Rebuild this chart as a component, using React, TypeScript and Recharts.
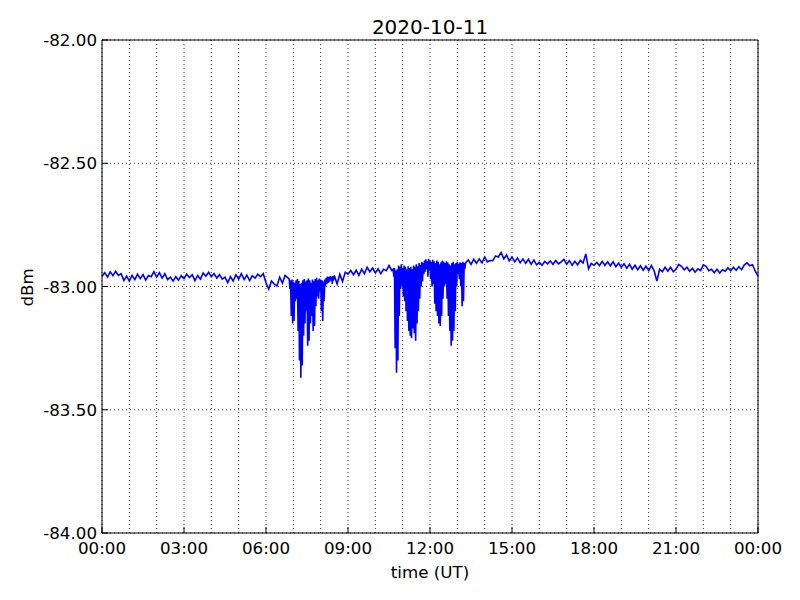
import React from 'react';
import { LineChart, Line, XAxis, YAxis, CartesianGrid, ReferenceArea } from 'recharts';

// [hour, dBm] before the first fade
const night: [number, number][] = [
  [0.0, -82.958], [0.1, -82.944], [0.2, -82.962], [0.3, -82.94], [0.4, -82.956], [0.5, -82.938],
  [0.6, -82.955], [0.7, -82.948], [0.8, -82.976], [0.9, -82.958], [1.0, -82.978], [1.1, -82.955],
  [1.2, -82.972], [1.3, -82.95], [1.4, -82.968], [1.5, -82.952], [1.6, -82.974], [1.7, -82.955],
  [1.8, -82.96], [1.9, -82.94], [2.0, -82.962], [2.1, -82.944], [2.2, -82.966], [2.3, -82.948],
  [2.4, -82.972], [2.5, -82.962], [2.6, -82.978], [2.7, -82.96], [2.8, -82.974], [2.9, -82.956],
  [3.0, -82.968], [3.1, -82.95], [3.2, -82.964], [3.3, -82.952], [3.4, -82.976], [3.5, -82.955],
  [3.6, -82.97], [3.7, -82.945], [3.8, -82.958], [3.9, -82.942], [4.0, -82.96], [4.1, -82.948],
  [4.2, -82.966], [4.3, -82.952], [4.4, -82.97], [4.5, -82.962], [4.6, -82.984], [4.7, -82.96],
  [4.8, -82.978], [4.9, -82.952], [5.0, -82.97], [5.1, -82.948], [5.2, -82.972], [5.3, -82.954],
  [5.4, -82.976], [5.5, -82.956], [5.6, -82.966], [5.7, -82.95], [5.8, -82.96], [5.9, -82.948],
  [6.0, -82.985], [6.1, -83.01], [6.2, -82.978], [6.3, -82.99], [6.4, -82.998], [6.5, -82.962],
  [6.6, -82.986], [6.7, -82.955], [6.8, -82.965],
];

// [hour, upper, lower] while the signal flickers (morning fade)
const dip1: [number, number, number][] = [
  [6.85, -82.97, -83.01], [6.9, -82.975, -83.12], [6.95, -82.972, -83.15], [7.0, -82.98, -83.14],
  [7.05, -82.985, -83.06], [7.1, -82.975, -83.05], [7.15, -82.97, -83.18], [7.2, -82.978, -83.3],
  [7.25, -82.99, -83.37], [7.3, -82.985, -83.32], [7.35, -82.975, -83.2], [7.4, -82.97, -83.15],
  [7.45, -82.98, -83.1], [7.5, -82.975, -83.24], [7.55, -82.968, -83.22], [7.6, -82.975, -83.15],
  [7.65, -82.985, -83.12], [7.7, -82.972, -83.18], [7.75, -82.978, -83.16], [7.8, -82.97, -83.08],
  [7.85, -82.965, -83.04], [7.9, -82.975, -83.05], [7.95, -82.968, -83.02], [8.0, -82.972, -83.1],
  [8.05, -82.975, -83.14], [8.1, -82.98, -83.06], [8.15, -82.972, -83.0], [8.2, -82.965, -82.99],
  [8.25, -82.96, -82.985], [8.3, -82.962, -82.98], [8.35, -82.958, -82.975], [8.4, -82.96, -82.99],
  [8.45, -82.958, -82.975],
];

const mid: [number, number][] = [
  [8.5, -82.955], [8.6, -82.99], [8.7, -82.95], [8.8, -82.98], [8.9, -82.942], [9.0, -82.95],
  [9.1, -82.935], [9.2, -82.952], [9.3, -82.934], [9.4, -82.955], [9.5, -82.93], [9.6, -82.948],
  [9.7, -82.922], [9.8, -82.94], [9.9, -82.925], [10.0, -82.945], [10.1, -82.928], [10.2, -82.948],
  [10.3, -82.93], [10.4, -82.936], [10.5, -82.915], [10.6, -82.935],
];

// [hour, upper, lower] midday fades
const dip2: [number, number, number][] = [
  [10.65, -82.93, -82.96], [10.7, -82.925, -83.25], [10.75, -82.935, -83.35], [10.8, -82.93, -83.3],
  [10.85, -82.915, -83.12], [10.9, -82.92, -83.01], [10.95, -82.91, -83.0], [11.0, -82.925, -83.04],
  [11.05, -82.915, -83.06], [11.1, -82.92, -83.1], [11.15, -82.93, -83.14], [11.2, -82.918, -83.18],
  [11.25, -82.925, -83.2], [11.3, -82.92, -83.21], [11.35, -82.93, -83.17], [11.4, -82.915, -83.19],
  [11.45, -82.92, -83.22], [11.5, -82.91, -83.15], [11.55, -82.918, -83.1], [11.6, -82.905, -83.05],
  [11.65, -82.912, -83.0], [11.7, -82.9, -82.98], [11.75, -82.905, -82.95], [11.8, -82.895, -82.94],
  [11.85, -82.89, -82.93], [11.9, -82.898, -82.96], [11.95, -82.888, -82.935], [12.0, -82.895, -82.97],
  [12.05, -82.9, -83.0], [12.1, -82.892, -82.99], [12.15, -82.898, -83.07], [12.2, -82.905, -83.1],
  [12.25, -82.895, -83.12], [12.3, -82.9, -83.15], [12.35, -82.91, -83.16], [12.4, -82.902, -83.12],
  [12.45, -82.895, -83.05], [12.5, -82.9, -83.0], [12.55, -82.905, -82.99], [12.6, -82.898, -83.05],
  [12.65, -82.902, -83.12], [12.7, -82.91, -83.18], [12.75, -82.915, -83.24], [12.8, -82.905, -83.22],
  [12.85, -82.9, -83.18], [12.9, -82.91, -83.1], [12.95, -82.905, -83.0], [13.0, -82.9, -82.95],
  [13.05, -82.908, -82.97], [13.1, -82.902, -83.0], [13.15, -82.905, -83.08], [13.2, -82.9, -83.06],
  [13.25, -82.905, -82.93],
];

const afternoon: [number, number][] = [
  [13.3, -82.905], [13.4, -82.892], [13.5, -82.91], [13.6, -82.89], [13.7, -82.906], [13.8, -82.888],
  [13.9, -82.904], [14.0, -82.88], [14.1, -82.9], [14.2, -82.895], [14.3, -82.894], [14.4, -82.876],
  [14.5, -82.88], [14.6, -82.862], [14.7, -82.888], [14.8, -82.872], [14.9, -82.896], [15.0, -82.88],
  [15.1, -82.9], [15.2, -82.884], [15.3, -82.904], [15.4, -82.888], [15.5, -82.906], [15.6, -82.89],
  [15.7, -82.91], [15.8, -82.893], [15.9, -82.912], [16.0, -82.902], [16.1, -82.914], [16.2, -82.898],
  [16.3, -82.908], [16.4, -82.896], [16.5, -82.91], [16.6, -82.895], [16.7, -82.908], [16.8, -82.9],
  [16.9, -82.89], [17.0, -82.91], [17.1, -82.895], [17.2, -82.914], [17.3, -82.898], [17.4, -82.912],
  [17.5, -82.894], [17.6, -82.905], [17.7, -82.868], [17.8, -82.928], [17.9, -82.906], [18.0, -82.914],
  [18.1, -82.902], [18.2, -82.915], [18.3, -82.898], [18.4, -82.914], [18.5, -82.9], [18.6, -82.916],
  [18.7, -82.9], [18.8, -82.92], [18.9, -82.905], [19.0, -82.922], [19.1, -82.908], [19.2, -82.926],
  [19.3, -82.91], [19.4, -82.93], [19.5, -82.914], [19.6, -82.932], [19.7, -82.916], [19.8, -82.934],
  [19.9, -82.918], [20.0, -82.935], [20.1, -82.915], [20.2, -82.936], [20.3, -82.978], [20.4, -82.93],
  [20.5, -82.94], [20.6, -82.922], [20.7, -82.938], [20.8, -82.922], [20.9, -82.94], [21.0, -82.93],
  [21.1, -82.91], [21.2, -82.918], [21.3, -82.932], [21.4, -82.922], [21.5, -82.938], [21.6, -82.926],
  [21.7, -82.942], [21.8, -82.928], [21.9, -82.935], [22.0, -82.912], [22.1, -82.918], [22.2, -82.936],
  [22.3, -82.93], [22.4, -82.944], [22.5, -82.93], [22.6, -82.945], [22.7, -82.932], [22.8, -82.938],
  [22.9, -82.924], [23.0, -82.936], [23.1, -82.922], [23.2, -82.934], [23.3, -82.92], [23.4, -82.932],
  [23.5, -82.912], [23.6, -82.904], [23.7, -82.916], [23.8, -82.912], [23.9, -82.938], [24.0, -82.958],
];

const hourTicks = [0, 1, 2, 3, 4, 5, 6, 7, 8, 9, 10, 11, 12, 13, 14, 15, 16, 17, 18, 19, 20, 21, 22, 23, 24];
const yTicks = [-84, -83.5, -83, -82.5, -82];

const FONT = 'DejaVu Sans, sans-serif';

const plain = (rows: [number, number][]) => rows.map(([t, v]) => ({ t, v }));
const flicker = (rows: [number, number, number][]) =>
  rows.flatMap(([t, top, low]) => [{ t, v: top }, { t: t + 0.025, v: low }]);

const data = [
  ...plain(night),
  ...flicker(dip1),
  ...plain(mid),
  ...flicker(dip2),
  ...plain(afternoon),
];

const hhmm = (h: number) => `${String(h % 24).padStart(2, '0')}:00`;

const BottomTick = (props: any) => {
  const { x, y, payload } = props;
  if (payload.value % 3 !== 0) return <g />;
  return (
    <g>
      <line x1={x} x2={x} y1={y} y2={y - 6} stroke="#000" />
      <text x={x} y={y + 21} textAnchor="middle" fontSize={16.7} fontFamily={FONT} fill="#000">
        {hhmm(payload.value)}
      </text>
    </g>
  );
};

const TopTick = (props: any) => {
  const { x, y, payload } = props;
  if (payload.value % 3 !== 0) return <g />;
  return <line x1={x} x2={x} y1={y} y2={y + 6} stroke="#000" />;
};

const LeftTick = (props: any) => {
  const { x, y, payload } = props;
  return (
    <g>
      <line x1={x} x2={x + 6} y1={y} y2={y} stroke="#000" />
      <text x={x - 5} y={y} dy="0.36em" textAnchor="end" fontSize={16.7} fontFamily={FONT} fill="#000">
        {payload.value.toFixed(2)}
      </text>
    </g>
  );
};

const RightTick = (props: any) => {
  const { x, y } = props;
  return <line x1={x} x2={x - 6} y1={y} y2={y} stroke="#000" />;
};

export default function App() {
  return (
    <div style={{ position: 'absolute', left: 0, top: 0, width: 800, height: 600, background: '#fff' }}>
      <LineChart width={800} height={600} data={data} margin={{ top: 40, right: 42, left: 2, bottom: 37 }}>
        <CartesianGrid stroke="#000" strokeDasharray="1 3" strokeWidth={0.8} />
        <XAxis
          dataKey="t"
          type="number"
          domain={[0, 24]}
          ticks={hourTicks}
          interval={0}
          height={30}
          tickSize={0}
          tickMargin={0}
          tickLine={false}
          axisLine={false}
          tick={<BottomTick />}
        />
        <XAxis
          xAxisId="top"
          orientation="top"
          type="number"
          domain={[0, 24]}
          ticks={hourTicks}
          interval={0}
          height={0}
          tickSize={0}
          tickMargin={0}
          tickLine={false}
          axisLine={false}
          tick={<TopTick />}
        />
        <YAxis
          type="number"
          domain={[-84, -82]}
          ticks={yTicks}
          interval={0}
          width={100}
          tickSize={0}
          tickMargin={0}
          tickLine={false}
          axisLine={false}
          tick={<LeftTick />}
        />
        <YAxis
          yAxisId="right"
          orientation="right"
          type="number"
          domain={[-84, -82]}
          ticks={yTicks}
          interval={0}
          width={0}
          tickSize={0}
          tickMargin={0}
          tickLine={false}
          axisLine={false}
          tick={<RightTick />}
        />
        <Line
          type="linear"
          dataKey="v"
          stroke="#0000ff"
          strokeWidth={1.6}
          dot={false}
          isAnimationActive={false}
        />
        <ReferenceArea x1={0} x2={24} y1={-84} y2={-82} fill="none" stroke="#000" strokeWidth={1} />
      </LineChart>
      <div style={{ position: 'absolute', left: 330, width: 200, top: 17, textAlign: 'center', fontFamily: FONT, fontSize: 20, lineHeight: 1 }}>
        2020-10-11
      </div>
      <div style={{ position: 'absolute', left: 330, width: 200, top: 564, textAlign: 'center', fontFamily: FONT, fontSize: 16.7, lineHeight: 1 }}>
        time (UT)
      </div>
      <div
        style={{
          position: 'absolute',
          left: 27 - 50,
          width: 100,
          top: 287 - 8,
          textAlign: 'center',
          fontFamily: FONT,
          fontSize: 16.7,
          lineHeight: 1,
          transform: 'rotate(-90deg)',
        }}
      >
        dBm
      </div>
    </div>
  );
}
